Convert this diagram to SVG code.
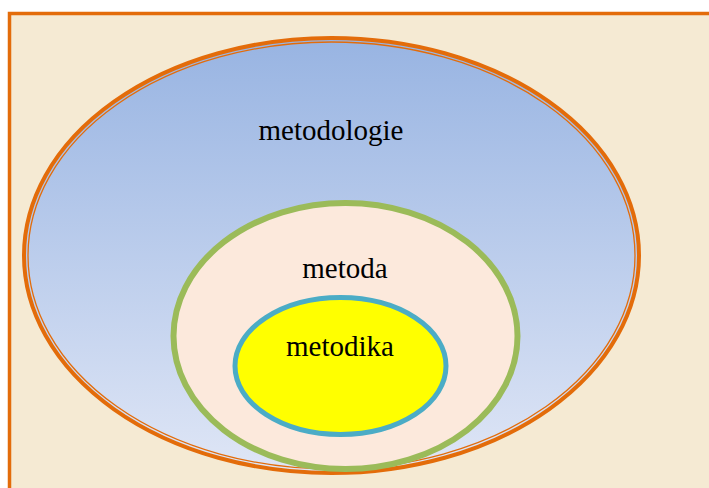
<svg xmlns="http://www.w3.org/2000/svg" width="709" height="488" viewBox="0 0 709 488">
<defs>
<linearGradient id="blueGrad" x1="0" y1="0" x2="0" y2="1">
<stop offset="0" stop-color="#98b4e2"/>
<stop offset="1" stop-color="#dfe6f6"/>
</linearGradient>
</defs>
<style>
text{font-family:"Liberation Serif","Times New Roman",serif;font-size:29px;fill:#000;text-anchor:middle}
</style>
<rect x="0" y="0" width="709" height="488" fill="#ffffff"/>
<rect x="9.5" y="13.5" width="710" height="490" fill="#f5ead3" stroke="#e36c0a" stroke-width="3.5"/>
<g id="metodologie">
<ellipse cx="331.5" cy="255.5" rx="307.5" ry="217.5" fill="url(#blueGrad)" stroke="#e36c0a" stroke-width="4"/>
<ellipse cx="331.5" cy="255.5" rx="303.5" ry="213.5" fill="none" stroke="#e36c0a" stroke-width="1.3"/>
<text x="331" y="140">metodologie</text>
</g>
<g id="metoda">
<ellipse cx="345.5" cy="336" rx="172" ry="133" fill="#fce9dc" stroke="#9bbb59" stroke-width="6"/>
<text x="345" y="278">metoda</text>
</g>
<g id="metodika">
<ellipse cx="340.5" cy="366" rx="105.5" ry="68.5" fill="#ffff00" stroke="#4bacc6" stroke-width="5"/>
<text x="340" y="356">metodika</text>
</g>
<g id="connectors"/>
</svg>
